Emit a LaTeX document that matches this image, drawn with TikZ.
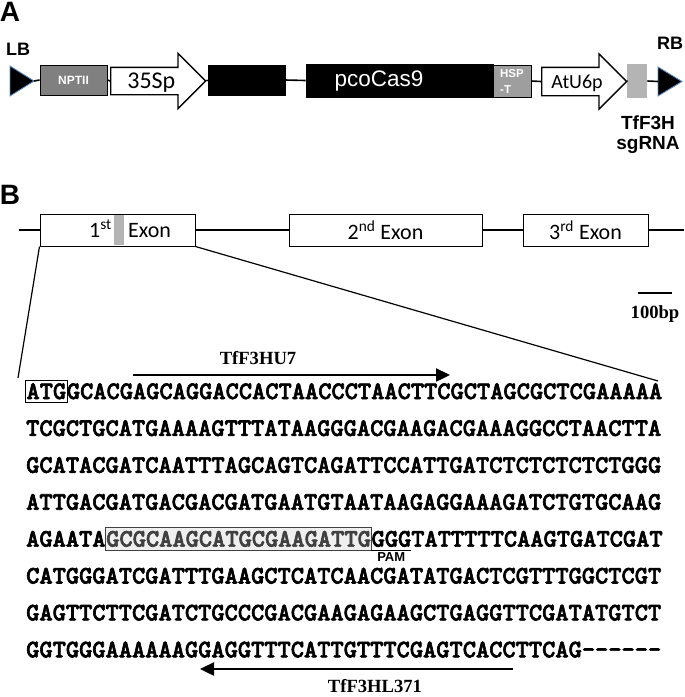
\documentclass[tikz,border=0pt]{standalone}
\usepackage{fontspec}
\newfontfamily\arialfont{Liberation Sans}
\newfontfamily\timesfont{Liberation Serif}
\newfontfamily\califont{Carlito}
\newfontfamily\seqfont{lmmonolt10-bold.otf}[FakeBold=2.5]
\usepackage{tikz}
\usetikzlibrary{shapes.arrows, positioning, arrows.meta, calc}
\definecolor{nptgray}{HTML}{808080}
\definecolor{hspgray}{HTML}{9E9E9E}
\definecolor{sggray}{HTML}{B4B4B4}
\definecolor{triblue}{HTML}{5A8AC6}
\definecolor{hlfill}{HTML}{EFEFEF}
\definecolor{hltext}{HTML}{404040}
\tikzset{
  backbone/.style={line width=1.6pt},
  part/.style={rectangle, draw=black, line width=0.8pt, inner sep=0pt},
  promoter/.style={single arrow, draw=black, line width=1.3pt, fill=white, single arrow tip angle=90, inner sep=0pt, anchor=tail},
  tborde/.style={fill=black, draw=triblue, line width=0.9pt},
  exon/.style={rectangle, draw=black, line width=1pt, fill=white, minimum height=32pt, inner sep=0pt, font=\califont\fontsize{22}{24}\selectfont},
  seq/.style={anchor=base west, inner sep=0pt, font=\seqfont\fontsize{25.2}{27}\selectfont},
  primer/.style={line width=2.4pt, -{Triangle[length=14pt, width=13pt]}},
  plabel/.style={font=\timesfont\bfseries\fontsize{18.6}{20}\selectfont},
  sans/.style={font=\arialfont\bfseries\fontsize{#1}{#1}\selectfont}
}

\begin{document}
\begin{tikzpicture}[x=1pt, y=-1pt]
    \useasboundingbox (0,0) rectangle (685,697);

    % 1. Construccion T-DNA (panel A)
    \node[sans=28, inner sep=0pt] (pa) at (10,12) {A};
    \draw[tborde] (10,66) -- (34,81) -- (10,96) -- cycle;
    \coordinate (lbtip) at (34,81);
    \node[sans=18] (lb) at (18,49) {LB};

    \node[part, fill=nptgray, minimum width=67pt, minimum height=30pt, sans=12, text=white] (nptii) at (73.5,80) {NPTII};
    \node[promoter, minimum height=95pt, single arrow head extend=14pt, text height=20pt, text depth=6pt, font=\califont\fontsize{24}{24}\selectfont] (p35s) at (110,81) {35Sp};
    \node[part, fill=black, minimum width=77pt, minimum height=30pt] (cbox) at (246.5,80) {};
    \node[part, fill=black, minimum width=187pt, minimum height=33pt] (cas9) at (399.5,80.5) {};
    \node[text=white, font=\arialfont\fontsize{22.5}{22.5}\selectfont, inner sep=0pt] (cas9lbl) at (379,80.5) {pcoCas9};
    \node[part, fill=hspgray, minimum width=38pt, minimum height=32pt, text=white, align=left, font=\arialfont\bfseries\fontsize{11.5}{16}\selectfont] (hsp) at (512,81) {HSP\\-T};
    \node[promoter, minimum height=85pt, single arrow head extend=13.5pt, text height=20pt, text depth=7pt, font=\califont\fontsize{20}{20}\selectfont] (atu6) at (541,81.5) {AtU6p};
    \node[part, draw=none, fill=sggray, minimum width=20pt, minimum height=34pt] (sgbox) at (637,81) {};
    \draw[tborde] (658,67) -- (682,81.5) -- (658,96) -- cycle;
    \coordinate (rbtail) at (658,81.5);
    \node[sans=18] (rb) at (670,43) {RB};
    \node[align=center, font=\arialfont\bfseries\fontsize{19}{20}\selectfont] (sglbl) at (648,135) {TfF3H\\sgRNA};

    % Lineas entre elementos
    \foreach \a/\b in {lbtip/nptii.west, nptii.east/p35s.tail, p35s.tip/cbox.west, cbox.east/cas9.west, hsp.east/atu6.tail, atu6.tip/sgbox.west, sgbox.east/rbtail}
        \draw[backbone] (\a) -- (\b);

    % 2. Estructura del gen (panel B)
    \node[sans=28, inner sep=0pt] (pb) at (10,195) {B};
    \coordinate (gl) at (19,230);
    \coordinate (gr) at (684,230);
    \node[exon, minimum width=155pt] (ex1) at (117.5,230) {};
    \node[part, draw=none, fill=sggray, minimum width=10pt, minimum height=30pt] (bar) at (119,230) {};
    \node[anchor=base east, inner sep=0pt, font=\califont\fontsize{22}{24}\selectfont] (ex1a) at (112,237) {1\textsuperscript{st}};
    \node[anchor=base west, inner sep=0pt, font=\califont\fontsize{22}{24}\selectfont] (ex1b) at (128,237) {Exon};
    \node[exon, minimum width=193pt] (ex2) at (385.5,230) {2\textsuperscript{nd} Exon};
    \node[exon, minimum width=125pt] (ex3) at (585.5,230) {3\textsuperscript{rd} Exon};
    \foreach \a/\b in {gl/ex1.west, ex1.east/ex2.west, ex2.east/ex3.west, ex3.east/gr}
        \draw[backbone] (\a) -- (\b);

    % Escala
    \coordinate (sb1) at (638,293);
    \coordinate (sb2) at (672,293);
    \draw[line width=2.2pt] (sb1) -- (sb2);
    \node[plabel] (bp) at (655,314) {100bp};

    % Ampliacion del primer exon
    \coordinate (zl) at (18,378);
    \coordinate (zr) at (658,381);
    \draw[line width=1.2pt] (ex1.south west) -- (zl);
    \draw[line width=1.2pt] (ex1.south east) -- (zr);

    % 3. Secuencia
    \node[seq, draw, line width=1pt, inner xsep=1.5pt, inner ysep=3pt] (atg) at (24.5,399) {ATG};
    \node[seq] (r1) at ([xshift=-1.5pt]atg.base east) {GCACGAGCAGGACCACTAACCCTAACTTCGCTAGCGCTCGAAAAA};
    \foreach \k/\s in {2/TCGCTGCATGAAAAGTTTATAAGGGACGAAGACGAAAGGCCTAACTTA,
                       3/GCATACGATCAATTTAGCAGTCAGATTCCATTGATCTCTCTCTCTGGG,
                       4/ATTGACGATGACGACGATGAATGTAATAAGAGGAAAGATCTGTGCAAG,
                       6/CATGGGATCGATTTGAAGCTCATCAACGATATGACTCGTTTGGCTCGT,
                       7/GAGTTCTTCGATCTGCCCGACGAAGAGAAGCTGAGGTTCGATATGTCT}
        \node[seq] (r\k) at (26,{399+36.9*(\k-1)}) {\s};

    % sgRNA + PAM
    \node[seq] (r5a) at (26,546.6) {AGAATA};
    \node[seq, draw=hltext, fill=hlfill, text=hltext, line width=1pt, inner xsep=0.5pt, inner ysep=3.5pt] (grna) at ([xshift=-0.5pt]r5a.base east) {GCGCAAGCATGCGAAGATTG};
    \node[seq] (r5b) at ([xshift=-0.5pt]grna.base east) {GGGTATTTTTCAAGTGATCGAT};
    \coordinate (pam1) at ([yshift=-3.5pt]r5b.base west);
    \coordinate (pam2) at ([xshift=39.7pt]pam1);
    \draw[line width=1pt] (pam1) -- (pam2);
    \node[sans=13, inner sep=0pt, below=2.5pt] (pam) at ($(pam1)!0.5!(pam2)$) {PAM};

    \node[seq] (r8) at (26,657.3) {GGTGGGAAAAAAGGAGGTTTCATTGTTTCGAGTCACCTTCAG-\kern0pt-\kern0pt-\kern0pt-\kern0pt-\kern0pt-};

    % Cebadores
    \coordinate (u7a) at (133,375);
    \coordinate (u7b) at (450,375);
    \draw[primer] (u7a) -- (u7b);
    \node[plabel] (u7) at (258,358) {TfF3HU7};
    \coordinate (l371a) at (513,669);
    \coordinate (l371b) at (200,669);
    \draw[primer] (l371a) -- (l371b);
    \node[plabel, inner sep=0pt] (l371) at (375,686) {TfF3HL371};

\end{tikzpicture}
\end{document}
